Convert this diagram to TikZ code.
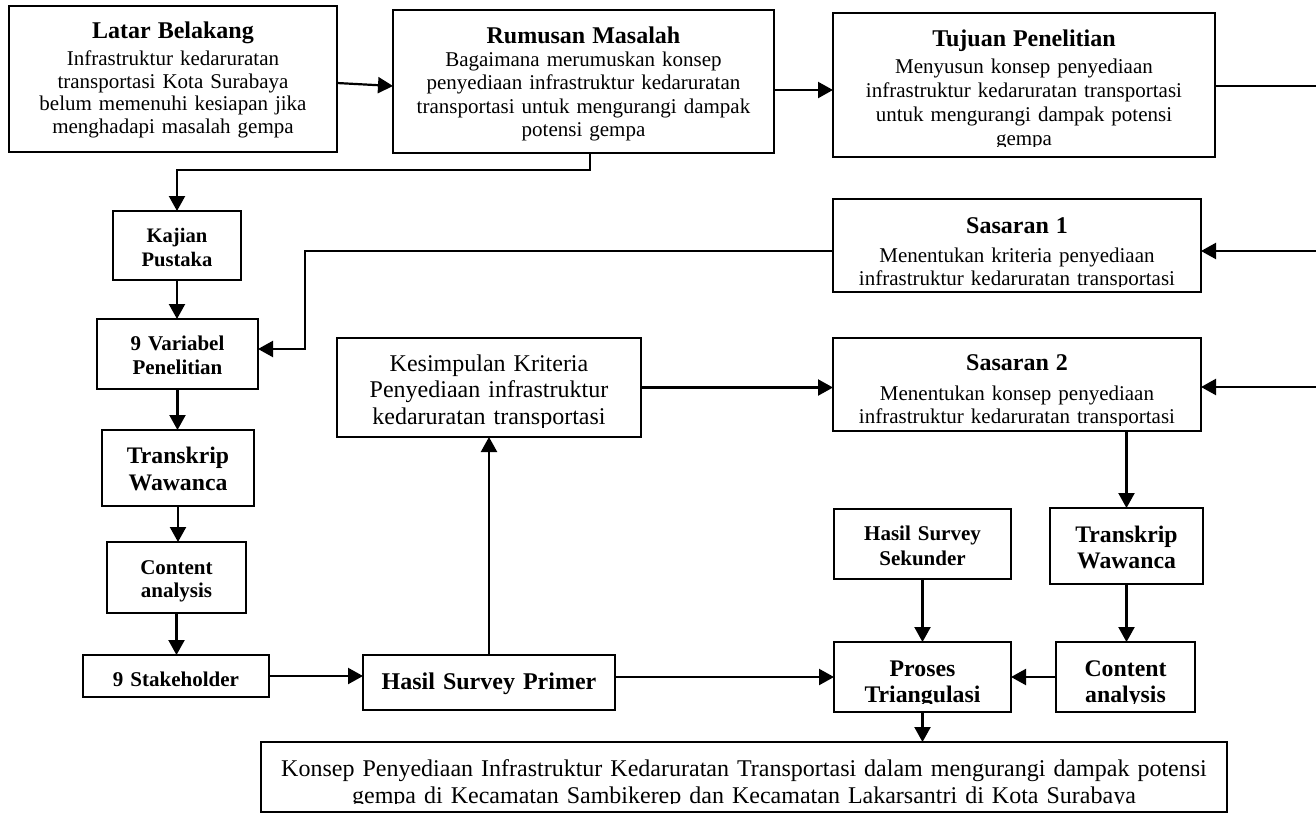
\documentclass[tikz,border=0pt]{standalone}
\usepackage{fontspec}
\setmainfont{Liberation Serif}
\usetikzlibrary{arrows.meta}
\tikzset{
  boxst/.style={draw, line width=2.2pt, inner sep=0pt, outer sep=0pt},
  txtst/.style={inner sep=0pt, outer sep=0pt, anchor=base, text width=1000pt, align=center},
  arr/.style={line width=2.2pt, -{Triangle[length=15pt,width=16pt]}},
  ln/.style={line width=2.2pt},
}
% #1 name, #2 x1, #3 y1, #4 x2, #5 y2, #6 first baseline, #7 clip bottom, #8 font, #9 text
\newcommand\mkbox[9]{%
  \node[boxst, minimum width={#4-#2}, minimum height={#5-#3}] (#1) at ({(#2+#4)/2},{(#3+#5)/2}) {};
  \begin{scope}
    \clip (#2,#3) rectangle (#4,#7);
    \node[txtst, font={#8}] (#1-t) at ({(#2+#4)/2},#6) {#9};
  \end{scope}}
\begin{document}
\begin{tikzpicture}[x=1pt,y=-1pt]
\useasboundingbox (0,0) rectangle (1316,814);

\mkbox{latar}{9}{6}{337}{152}{38.7}{152}{\fontsize{21}{22.8}\selectfont}
  {\textbf{\fontsize{24}{24}\selectfont Latar Belakang}\\[3.8pt]
   Infrastruktur kedaruratan\\ transportasi Kota Surabaya\\ belum memenuhi kesiapan jika\\ menghadapi masalah gempa}
\mkbox{rumusan}{393}{10}{774}{153}{43.3}{142}{\fontsize{21}{23.5}\selectfont}
  {\textbf{\fontsize{24}{24}\selectfont Rumusan Masalah}\\[-0.8pt]
   Bagaimana merumuskan konsep\\ penyediaan infrastruktur kedaruratan\\ transportasi untuk mengurangi dampak\\ potensi gempa}
\mkbox{tujuan}{833}{13}{1215}{157}{46}{146}{\fontsize{21}{24}\selectfont}
  {\textbf{\fontsize{24}{24}\selectfont Tujuan Penelitian}\\[3.3pt]
   Menyusun konsep penyediaan\\ infrastruktur kedaruratan transportasi\\ untuk mengurangi dampak potensi\\ gempa}
\mkbox{sas1}{833}{199}{1201}{292}{233}{286}{\fontsize{21}{23}\selectfont}
  {\textbf{\fontsize{24}{24}\selectfont Sasaran 1}\\[6pt]
   Menentukan kriteria penyediaan\\ infrastruktur kedaruratan transportasi}
\mkbox{sas2}{833}{338}{1201}{431}{370.7}{425}{\fontsize{21}{23.3}\selectfont}
  {\textbf{\fontsize{24}{24}\selectfont Sasaran 2}\\[6pt]
   Menentukan konsep penyediaan\\ infrastruktur kedaruratan transportasi}
\mkbox{kesim}{337}{338}{641}{437}{371.7}{427}{\fontsize{24}{26.2}\selectfont}
  {Kesimpulan Kriteria\\ Penyediaan infrastruktur\\ kedaruratan transportasi}

\mkbox{kajian}{113}{211}{241}{280}{242.7}{280}{\bfseries\fontsize{20.6}{23.3}\selectfont}
  {Kajian\\ Pustaka}
\mkbox{var}{97}{319}{258}{389}{350}{389}{\bfseries\fontsize{21}{24.3}\selectfont}
  {9 Variabel\\ Penelitian}
\mkbox{trl}{102}{430}{254}{506}{463.3}{506}{\bfseries\fontsize{23.7}{27.4}\selectfont}
  {Transkrip\\ Wawanca}
\mkbox{cal}{107}{542}{246}{613}{574.3}{613}{\bfseries\fontsize{21}{23}\selectfont}
  {Content\\ analysis}
\mkbox{stake}{83}{655}{269}{697}{686}{697}{\bfseries\fontsize{21}{23}\selectfont}
  {9 Stakeholder}
\mkbox{primer}{363}{655}{615}{710}{689.3}{710}{\bfseries\fontsize{24}{26}\selectfont}
  {Hasil Survey Primer}
\mkbox{sek}{834}{509}{1011}{579}{540}{579}{\bfseries\fontsize{21}{25}\selectfont}
  {Hasil Survey\\ Sekunder}
\mkbox{trr}{1050}{508}{1203}{584}{542.7}{584}{\bfseries\fontsize{23.7}{25.6}\selectfont}
  {Transkrip\\ Wawanca}
\mkbox{proses}{834}{642}{1011}{712}{676}{703}{\bfseries\fontsize{23.8}{26.7}\selectfont}
  {Proses\\ Triangulasi}
\mkbox{car}{1056}{642}{1195}{712}{676}{703}{\bfseries\fontsize{23.8}{26.7}\selectfont}
  {Content\\ analysis}
\mkbox{final}{261}{742}{1227}{812}{776}{803}{\fontsize{24}{27}\selectfont}
  {Konsep Penyediaan Infrastruktur Kedaruratan Transportasi dalam mengurangi dampak potensi\\ gempa di Kecamatan Sambikerep dan Kecamatan Lakarsantri di Kota Surabaya}

% connectors
\draw[arr] ([yshift=-4pt]latar.east) -- ([yshift=-4.5pt]rumusan.west);
\draw[arr] (rumusan.east |- 0,90) -- (tujuan.west |- 0,90);
\coordinate (r0) at (1330,86);
\coordinate (r1) at (1330,251);
\coordinate (r2) at (1330,387);
\draw[ln] (tujuan.east |- r0) -- (r0) -- (r2);
\draw[arr] (r1) -- (sas1.east |- r1);
\draw[arr] (r2) -- (sas2.east |- r2);
\coordinate (k0) at (590,170);
\draw[arr] (rumusan.south -| k0) -- (k0) -| (kajian.north);
\draw[arr] (kajian.south) -- (kajian.south |- var.north);
\draw[arr] (var.south) -- (var.south |- trl.north);
\draw[arr] (trl.south) -- (trl.south |- cal.north);
\draw[arr] (cal.south) -- (cal.south |- stake.north);
\coordinate (s0) at (305,251);
\coordinate (s1) at (305,349);
\draw[arr] (sas1.west |- s0) -- (s0) -- (s1) -- (var.east |- s1);
\draw[arr] (stake.east) -- (primer.west |- stake.east);
\draw[arr] (primer.north) -- (kesim.south);
\draw[arr] (kesim.east) -- (sas2.west |- kesim.east);
\draw[arr] (trr.north |- sas2.south) -- (trr.north);
\draw[arr] (trr.south) -- (trr.south |- car.north);
\draw[arr] (sek.south) -- (sek.south |- proses.north);
\draw[arr] (primer.east |- proses.west) -- (proses.west);
\draw[arr] (car.west) -- (proses.east |- car.west);
\draw[arr] (proses.south) -- (proses.south |- final.north);
\end{tikzpicture}
\end{document}
